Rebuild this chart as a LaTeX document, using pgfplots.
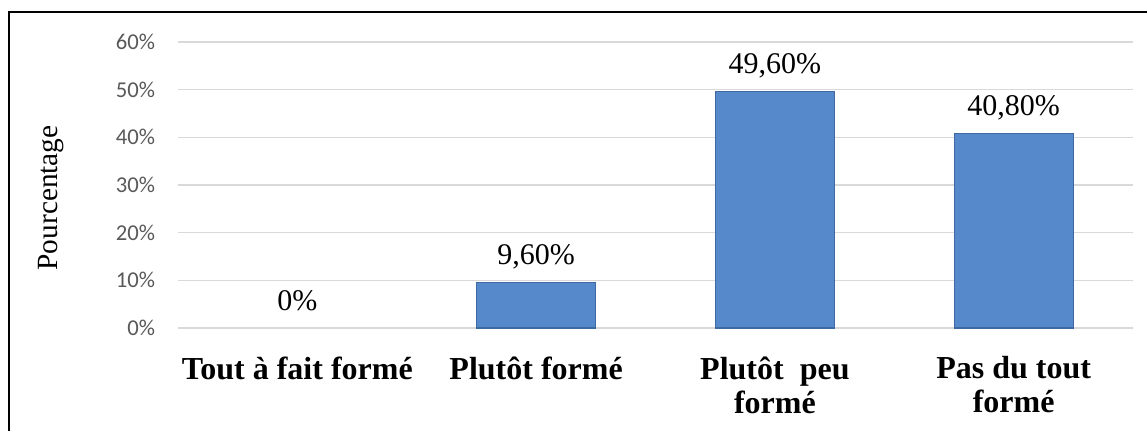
\documentclass[border=0pt]{standalone}
\usepackage{pgfplots}
\pgfplotsset{compat=1.18}
\usepackage{fontspec}
\setmainfont{Liberation Serif}
\newfontfamily\calibri{Carlito}

\definecolor{barblue}{RGB}{86,137,204}
\definecolor{baredge}{RGB}{62,104,160}
\definecolor{gridgray}{RGB}{217,217,217}
\definecolor{ticktext}{RGB}{89,89,89}

\begin{document}
\begin{tikzpicture}
  % 1 px of the reference = 0.75pt
  \useasboundingbox (0pt,0pt) rectangle (860.25pt,322.5pt);
  % outer frame, right and bottom edges fall outside the picture
  \draw[line width=1.2pt] (6.75pt,313.5pt) rectangle (880pt,-20pt);

  \begin{axis}[
      at={(133.5pt,76.5pt)}, anchor=south west,
      scale only axis,
      width=716.25pt, height=214.5pt,
      ybar, bar width=89.25pt,
      xmin=-0.5, xmax=3.5,
      ymin=0, ymax=60,
      ytick={0,10,...,60},
      yticklabel={\pgfmathprintnumber{\tick}\%},
      xtick={0,1,2,3},
      xticklabels={Tout à fait formé, Plutôt formé, {Plutôt~ peu\\formé}, {Pas du tout\\formé}},
      axis line style={draw=none},
      major tick style={draw=none},
      ymajorgrids, grid style={gridgray, line width=1pt},
      /pgf/number format/assume math mode=true,
      yticklabel style={font=\calibri\fontsize{17}{19}\selectfont, text=ticktext,
        anchor=east, inner sep=0pt, xshift=-17pt},
      xticklabel style={font=\bfseries\fontsize{24}{25.5}\selectfont, align=center,
        anchor=north, inner sep=0pt, yshift=-17pt},
      ylabel={Pourcentage},
      ylabel style={font=\fontsize{22}{24}\selectfont, anchor=center,
        at={(axis description cs:-0.133,0.455)}},
      point meta=explicit symbolic,
      nodes near coords,
      nodes near coords style={font=\fontsize{22.5}{24}\selectfont, text=black,
        anchor=base, inner sep=0pt, yshift=13.5pt},
    ]
    % the 0 % category has no visible bar, only its label
    \addplot[bar shift=0pt, draw=none, fill=none] coordinates {
      (0,0) [0\%]
    };
    \addplot[bar shift=0pt, fill=barblue, draw=baredge, line width=0.9pt] coordinates {
      (1,9.6) [9,60\%]
      (2,49.6) [49,60\%]
      (3,40.8) [40,80\%]
    };
  \end{axis}
\end{tikzpicture}
\end{document}
